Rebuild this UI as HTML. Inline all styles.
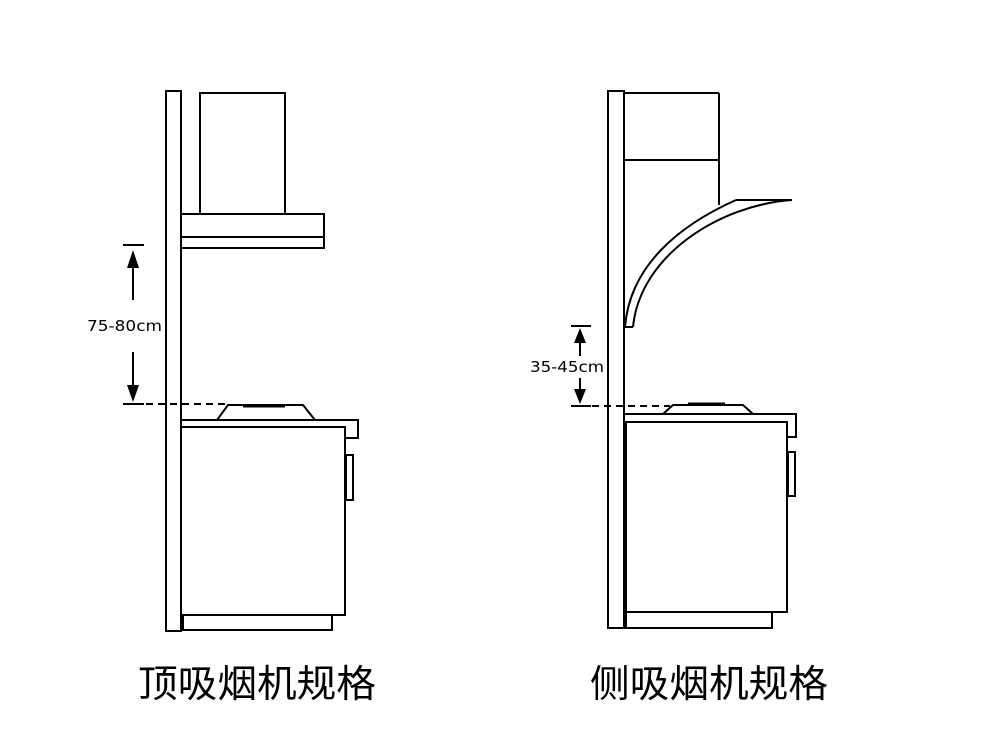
<!DOCTYPE html>
<html><head><meta charset="utf-8"><style>
html,body{margin:0;padding:0;background:#fff;}
svg{display:block;}
</style></head><body>
<svg width="1000" height="749" viewBox="0 0 1000 749" xmlns="http://www.w3.org/2000/svg">
<g fill="none" stroke="#000" stroke-width="2">
<!-- LEFT -->
<rect x="166" y="91" width="15" height="540"/>
<rect x="200" y="93" width="85" height="121"/>
<rect x="181" y="214" width="143" height="34"/>
<line x1="181" y1="237" x2="324" y2="237"/>
<line x1="123" y1="245" x2="144" y2="245"/>
<line x1="133" y1="265" x2="133" y2="300"/>
<line x1="133" y1="352" x2="133" y2="390"/>
<line x1="123" y1="404" x2="144" y2="404"/>
<line x1="146" y1="404" x2="228" y2="404" stroke-dasharray="7,5"/>
<polygon points="228,405 303,405 315,420 217,420"/>
<line x1="243" y1="406" x2="285" y2="406" stroke-width="3"/>
<polyline points="181,420 358,420 358,438 345,438"/>
<line x1="181" y1="427" x2="345" y2="427"/>
<rect x="181" y="427" width="164" height="188"/>
<rect x="346" y="455" width="7" height="45"/>
<rect x="183" y="615" width="149" height="15"/>
<!-- RIGHT -->
<rect x="608" y="91" width="16" height="537"/>
<line x1="624" y1="93" x2="719" y2="93"/>
<line x1="719" y1="93" x2="719" y2="205"/>
<line x1="624" y1="160" x2="719" y2="160"/>
<line x1="736" y1="200" x2="792" y2="200"/>
<path d="M736 200 C680 225 630 265 625 327"/>
<path d="M792 200 C720 205 640 255 633 327"/>
<line x1="625" y1="327" x2="633" y2="327"/>
<line x1="571" y1="326" x2="591" y2="326"/>
<line x1="580" y1="340" x2="580" y2="356"/>
<line x1="580" y1="378" x2="580" y2="393"/>
<line x1="571" y1="406" x2="591" y2="406"/>
<line x1="592" y1="406" x2="670" y2="406" stroke-dasharray="7,5"/>
<polygon points="673,405 743,405 753,414 663,414"/>
<line x1="688" y1="404" x2="725" y2="404" stroke-width="3"/>
<polyline points="624,414 796,414 796,437 788,437"/>
<rect x="626" y="422" width="161" height="190"/>
<rect x="788" y="452" width="7" height="44"/>
<rect x="626" y="612" width="146" height="16"/>
</g>
<g fill="#000">
<polygon points="133,250 127,268 139,268"/>
<polygon points="133,402 127,385 139,385"/>
<polygon points="580,328 574,343 586,343"/>
<polygon points="580,404 574,389 586,389"/>
</g>
<g font-family="'DejaVu Sans','Liberation Sans',sans-serif" font-size="15" fill="#000">
<text x="87" y="331" textLength="75" lengthAdjust="spacingAndGlyphs">75-80cm</text>
<text x="530" y="372" textLength="74" lengthAdjust="spacingAndGlyphs">35-45cm</text>
</g>
<g font-family="'Liberation Sans','Noto Sans CJK SC',sans-serif" font-size="38" fill="#000">
<text x="138" y="697" textLength="238" lengthAdjust="spacingAndGlyphs">顶吸烟机规格</text>
<text x="590" y="697" textLength="238" lengthAdjust="spacingAndGlyphs">侧吸烟机规格</text>
</g>
</svg>
</body></html>
